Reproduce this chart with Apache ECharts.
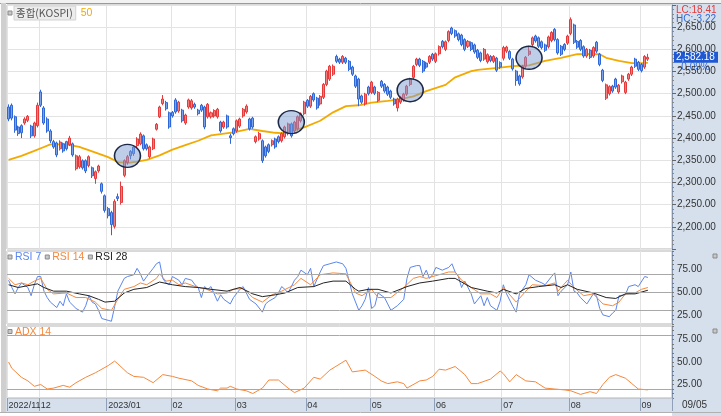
<!DOCTYPE html>
<html>
<head>
<meta charset="utf-8">
<script src="https://cdn.jsdelivr.net/npm/echarts@6/dist/echarts.min.js"></script>
<style>
  html, body { margin: 0; padding: 0; background: #fff; }
  #chart { width: 721px; height: 416px; }
</style>
</head>
<body>
<div id="chart"></div>
<script>
// months on the date axis and how many trading days each one holds
const monthLabels = ['2022/11', '12', '2023/01', '02', '03', '04', '05', '06', '07', '08', '09'];
const monthBars = [10, 21, 20, 20, 22, 20, 20, 21, 21, 22, 3];
const emptySlots = 7;
const lastDate = '09/05';

// KOSPI daily candles: [open, close, low, high]
const kospi = [
  [2470,2443,2438,2476],[2474,2445,2440,2478],[2448,2418,2412,2451],[2425,2410,2405,2428],[2428,2412,2400,2431],
  [2434,2443,2430,2447],[2440,2449,2436,2452],[2427,2405,2400,2430],[2405,2434,2401,2437],[2428,2474,2424,2480],
  [2504,2474,2470,2509],[2468,2434,2430,2472],[2443,2416,2412,2447],[2416,2394,2389,2420],[2392,2380,2376,2396],
  [2389,2362,2357,2392],[2376,2391,2372,2395],[2387,2371,2367,2390],[2392,2376,2372,2394],[2385,2400,2382,2405],
  [2387,2362,2358,2390],[2331,2360,2327,2363],[2335,2358,2331,2362],[2349,2333,2329,2352],[2349,2326,2321,2352],
  [2338,2358,2334,2361],[2333,2315,2310,2336],[2309,2324,2297,2327],[2326,2337,2322,2340],[2297,2280,2275,2300],
  [2270,2237,2232,2273],
  [2241,2225,2219,2245],[2232,2205,2181,2236],[2201,2257,2196,2262],[2268,2264,2258,2275],[2255,2291,2250,2302],
  [2316,2349,2312,2352],[2345,2358,2340,2362],[2370,2360,2352,2373],[2380,2365,2360,2384],[2383,2398,2378,2402],
  [2387,2409,2384,2413],[2405,2376,2372,2408],[2385,2376,2372,2388],[2358,2380,2354,2383],[2376,2398,2373,2401],
  [2420,2431,2417,2434],[2448,2470,2445,2473],[2478,2488,2474,2497],[2480,2466,2462,2484],[2457,2425,2421,2460],
  [2458,2450,2446,2461],[2486,2459,2455,2490],[2461,2481,2457,2484],[2463,2439,2435,2466],[2434,2452,2430,2455],
  [2470,2486,2466,2489],[2468,2484,2464,2488],[2476,2470,2466,2480],[2463,2455,2451,2466],[2474,2463,2459,2477],
  [2470,2425,2420,2473],[2448,2476,2444,2479],[2448,2457,2444,2460],[2450,2462,2446,2465],[2448,2465,2444,2468],
  [2436,2416,2412,2439],[2425,2436,2421,2439],[2450,2425,2421,2453],[2405,2401,2387,2410],[2421,2410,2406,2424],
  [2416,2439,2412,2442],[2427,2443,2423,2446],[2450,2465,2446,2468],[2459,2472,2455,2476],[2443,2421,2417,2446],
  [2445,2425,2421,2448],[2392,2403,2388,2406],[2398,2410,2394,2414],[2394,2349,2344,2397],[2380,2360,2356,2383],
  [2385,2370,2366,2388],[2385,2394,2381,2397],[2398,2380,2376,2401],[2403,2392,2388,2406],[2394,2410,2390,2413],
  [2403,2425,2399,2428],[2410,2432,2406,2435],[2432,2405,2401,2435],[2416,2436,2412,2439],[2421,2448,2417,2451],
  [2439,2455,2435,2458],[2455,2481,2451,2484],
  [2485,2472,2468,2488],[2472,2494,2468,2497],[2500,2486,2482,2503],[2490,2468,2464,2493],[2477,2494,2473,2497],
  [2492,2521,2488,2524],[2521,2551,2517,2554],[2533,2562,2529,2565],[2544,2562,2540,2566],[2584,2573,2569,2588],
  [2578,2571,2567,2581],[2571,2584,2567,2587],[2580,2571,2567,2583],[2573,2555,2551,2576],[2560,2544,2540,2563],
  [2540,2517,2513,2543],[2533,2488,2472,2536],[2495,2481,2477,2498],[2477,2499,2473,2502],[2515,2500,2496,2518],
  [2503,2526,2499,2529],[2515,2501,2497,2518],[2485,2503,2481,2506],[2528,2517,2513,2531],[2521,2506,2502,2524],
  [2515,2499,2495,2518],[2506,2492,2488,2509],[2488,2477,2473,2491],[2468,2488,2460,2491],[2481,2492,2477,2495],
  [2486,2499,2482,2502],[2499,2517,2495,2520],[2521,2533,2517,2536],[2537,2562,2533,2565],[2566,2578,2562,2581],
  [2578,2564,2560,2581],[2573,2551,2547,2576],[2569,2560,2556,2572],[2571,2584,2567,2587],[2589,2578,2574,2592],
  [2573,2590,2569,2593],[2590,2606,2586,2609],[2618,2606,2602,2621],[2600,2617,2596,2620],[2620,2640,2616,2643],
  [2648,2636,2632,2651],[2642,2630,2626,2645],[2635,2622,2618,2638],[2632,2611,2607,2635],[2622,2600,2596,2625],
  [2607,2618,2603,2621],[2615,2600,2596,2618],[2610,2594,2590,2613],[2598,2582,2578,2601],[2592,2575,2571,2595],
  [2578,2600,2574,2603],[2572,2588,2568,2591],[2584,2575,2571,2587],[2573,2584,2569,2587],[2580,2553,2549,2583],
  [2570,2560,2556,2573],
  [2580,2604,2575,2608],[2596,2605,2592,2608],[2595,2580,2576,2598],[2578,2556,2552,2581],[2551,2530,2518,2554],
  [2540,2522,2518,2543],[2538,2562,2534,2565],[2562,2582,2558,2585],[2589,2596,2585,2608],[2611,2626,2607,2629],
  [2630,2619,2615,2633],[2626,2607,2603,2629],[2617,2604,2600,2620],[2610,2598,2594,2613],[2606,2628,2602,2631],
  [2620,2638,2616,2641],[2645,2622,2618,2648],[2622,2592,2588,2625],[2607,2589,2585,2610],[2611,2600,2596,2614],
  [2614,2630,2610,2633],
  [2636,2667,2632,2672],[2655,2616,2612,2658],[2618,2605,2601,2621],[2620,2600,2596,2623],[2606,2585,2581,2609],
  [2585,2600,2581,2603],[2598,2582,2578,2601],[2585,2604,2581,2607],[2616,2596,2592,2619],[2589,2566,2562,2592],
  [2553,2530,2526,2556],[2490,2520,2486,2523],[2500,2516,2496,2519],[2517,2506,2502,2520],[2533,2515,2511,2536],
  [2504,2519,2500,2522],[2527,2540,2523,2543],[2503,2526,2499,2529],[2533,2544,2529,2547],[2544,2560,2540,2563],
  [2578,2562,2558,2581],[2571,2555,2551,2574],
  [2566,2552,2548,2569],[2560,2584,2556,2587],[2578,2582.18,2574,2590]
];

// 50-day moving average, read at its bends: [bar, value]
const ma50 = [
  [0,2351],[4,2360],[8,2371],[11,2380],[13,2386],[18,2386],[22,2380],[26,2370],[31,2357],[34,2346],
  [37,2344],[40,2347],[43,2351],[47,2361],[51,2374],[55,2384],[59,2394],[63,2406],[70,2413],[75,2421],
  [79,2416],[83,2412],[85,2411],[88,2415],[92,2424],[97,2439],[101,2458],[105,2472],[109,2474],[113,2480],
  [118,2484],[122,2488],[126,2494],[130,2506],[136,2520],[139,2537],[144,2551],[146,2554],[153,2559],[157,2562],
  [162,2564],[167,2574],[172,2581],[177,2589],[181,2590],[184,2589],[186,2581],[190,2574],[194,2569],[198,2569],
  [199,2570]
];

// golden-cross marks on the price pane: [bar, price]
const crossPoints = [[37, 2360], [88, 2436], [125, 2508], [162, 2581]];

const lastClose = 2582.18;
const lastChange = '-0.09%';
const lcText = 'LC:18.41';
const hcText = 'HC:-3.22';

// RSI lines: [bar, value]
const rsi7 = [
  [0,63],[1,55],[2,48],[3,55],[4,60],[6,55],[7,46],[8,58],[9,67],[10,67],[11,51],[12,44],[13,39],[15,33],
  [16,40],[17,35],[18,48],[19,39],[21,32],[23,28],[24,35],[25,46],[26,39],[27,37],[28,30],[29,21],[31,19],
  [32,18],[33,34],[34,51],[36,65],[37,67],[39,69],[40,76],[41,70],[42,62],[43,67],[45,76],[46,81],[47,83],
  [48,65],[49,60],[50,58],[51,67],[53,63],[54,58],[55,65],[57,63],[58,58],[59,55],[60,44],[61,56],[62,53],
  [63,56],[65,40],[66,47],[67,42],[69,37],[70,44],[72,53],[73,56],[74,49],[75,42],[77,37],[79,28],[80,37],
  [81,40],[83,44],[84,49],[85,56],[86,53],[87,49],[89,63],[90,67],[91,74],[93,69],[94,76],[95,56],[97,72],
  [98,79],[100,81],[102,83],[104,81],[105,76],[107,48],[109,30],[110,35],[111,42],[112,55],[113,32],[114,35],
  [115,49],[117,44],[118,37],[119,30],[121,35],[123,42],[124,65],[125,77],[127,79],[128,79],[129,67],[130,74],
  [131,65],[132,69],[133,77],[135,74],[137,77],[138,81],[139,72],[140,67],[141,55],[142,62],[144,48],[145,37],
  [147,46],[148,35],[149,44],[150,35],[152,30],[153,40],[154,58],[155,48],[157,34],[158,28],[159,48],[161,58],
  [162,69],[164,63],[166,60],[167,58],[169,67],[170,71],[171,46],[172,51],[174,58],[175,72],[176,51],[177,49],
  [178,44],[180,37],[182,48],[183,46],[184,32],[185,25],[187,23],[188,27],[189,30],[190,46],[192,47],[193,56],
  [195,58],[196,56],[198,67],[199,66]
];
const rsi14 = [
  [0,65],[2,58],[4,60],[6,58],[8,62],[10,65],[12,53],[14,48],[18,49],[21,44],[24,44],[27,39],[29,32],[32,30],
  [34,42],[36,53],[39,56],[41,60],[43,58],[46,65],[47,70],[49,62],[51,63],[53,58],[55,60],[59,55],[61,54],
  [65,48],[68,49],[70,53],[73,54],[76,44],[79,39],[82,47],[85,51],[89,58],[91,65],[94,58],[97,69],[101,71],
  [105,70],[108,49],[110,46],[113,53],[115,44],[119,44],[123,55],[126,65],[128,67],[130,65],[133,68],[137,72],
  [139,72],[141,63],[144,55],[147,48],[150,48],[152,44],[154,55],[158,39],[161,51],[163,58],[167,57],[170,60],
  [171,51],[174,63],[176,55],[179,46],[182,48],[185,37],[188,35],[190,39],[192,48],[195,49],[197,53],[199,55]
];
const rsi28 = [
  [0,58],[3,55],[6,57],[9,59],[11,55],[14,51],[18,51],[22,48],[25,46],[28,42],[30,39],[33,40],[36,49],[39,53],
  [43,55],[47,61],[51,58],[55,56],[59,55],[63,53],[68,51],[72,55],[76,48],[79,45],[83,47],[86,49],[90,55],
  [95,56],[98,60],[101,62],[105,62],[108,53],[109,51],[112,53],[115,53],[119,49],[124,56],[128,60],[132,62],
  [137,65],[139,65],[140,63],[144,55],[149,51],[152,49],[154,53],[158,48],[161,54],[165,56],[170,58],[172,55],
  [174,58],[177,53],[182,49],[186,44],[189,43],[192,48],[195,48],[199,52]
];
const rsiLevels = [30, 50, 70];

// ADX 14: [bar, value]
const adx14 = [
  [0,50],[1,43],[4,33],[6,29],[8,23],[10,25],[12,20],[14,21],[17,24],[19,22],[21,27],[24,33],[27,38],[28,40],
  [31,46],[33,51],[34,48],[37,38],[39,34],[42,33],[45,27],[48,36],[51,34],[53,32],[57,29],[59,24],[62,20],
  [65,18],[66,21],[68,21],[69,23],[71,20],[74,18],[76,15],[79,21],[81,30],[84,30],[87,21],[89,16],[92,21],
  [95,33],[97,31],[100,41],[105,52],[107,39],[109,40],[111,41],[114,34],[116,29],[118,26],[121,28],[123,26],
  [124,21],[128,29],[130,30],[132,34],[134,42],[136,41],[139,45],[142,36],[144,26],[146,26],[150,31],[153,40],
  [154,37],[156,28],[158,36],[161,29],[164,28],[167,21],[170,20],[173,19],[175,18],[178,14],[181,17],[183,15],
  [185,25],[187,33],[189,36],[192,32],[194,26],[196,20],[199,19]
];
const adxLevels = [20, 80];

// ---- build the category axis from the month table
const cats = [];
const monthStarts = [];
const labelAt = {};
let n = 0;
monthBars.forEach((cnt, m) => {
  monthStarts.push(n);
  labelAt[n] = monthLabels[m];
  for (let k = 0; k < cnt; k++) cats.push(String(n++));
});
for (let k = 0; k < emptySlots; k++) cats.push(String(n++));
const isMonthStart = (i) => monthStarts.indexOf(i) >= 0;

const FONT = "'Liberation Sans', 'Noto Sans CJK KR', sans-serif";
const KFONT = "'Noto Sans CJK KR', 'Liberation Sans', sans-serif";
const STRIP = '#d6e0ed';
const GRIDC = '#e3e3e3';
const REFC = '#a8a8a8';
const ORANGE = '#f5883c';

const measure = (function () {
  const ctx = document.createElement('canvas').getContext('2d');
  return function (text, size, family) {
    ctx.font = size + 'px ' + family;
    return ctx.measureText(text).width;
  };
})();

const grids = [
  { left: 7, right: 49, top: 5, height: 244 },
  { left: 7, right: 49, top: 251, height: 73 },
  { left: 7, right: 49, top: 326, height: 72 }
].map(g => Object.assign(g, { show: true, backgroundColor: '#fff', borderColor: '#b4b4b4', borderWidth: 1 }));

function xAxisFor(idx, withLabels) {
  return {
    type: 'category', gridIndex: idx, data: cats, boundaryGap: true,
    axisLine: { show: false },
    axisTick: withLabels
      ? { show: true, interval: isMonthStart, length: 13, lineStyle: { color: '#8fa0b8' } }
      : { show: false },
    axisLabel: withLabels
      ? { show: true, interval: isMonthStart, hideOverlap: false, showMinLabel: true,
          formatter: (v) => labelAt[+v] || '', align: 'left',
          margin: 3, color: '#333', fontSize: 9, fontFamily: FONT }
      : { show: false },
    splitLine: { show: true, interval: isMonthStart, lineStyle: { color: GRIDC, width: 1 } }
  };
}

function smallAxis(idx, min, max, marks) {
  return {
    type: 'value', gridIndex: idx, position: 'right', min: min, max: max, interval: 5,
    axisLine: { show: true, lineStyle: { color: '#8393ab' } },
    axisTick: { show: true, length: 2, lineStyle: { color: '#777' } },
    axisLabel: {
      formatter: (v) => marks.indexOf(v) >= 0 ? v.toFixed(2) : '',
      color: '#333', fontSize: 10, fontFamily: FONT, margin: 5
    },
    splitLine: { show: false }
  };
}

function levelLines(values, color) {
  return {
    silent: true, symbol: 'none', animation: false, label: { show: false },
    lineStyle: { color: color, type: 'solid', width: 1 },
    data: values.map(v => ({ yAxis: v }))
  };
}

const option = {
  animation: false,
  backgroundColor: '#fff',
  grid: grids,
  xAxis: [xAxisFor(0, false), xAxisFor(1, false), xAxisFor(2, true)],
  yAxis: [
    {
      type: 'value', gridIndex: 0, position: 'right', min: 2150, max: 2700, interval: 50,
      axisLine: { show: true, lineStyle: { color: '#8393ab' } },
      axisTick: { show: true, length: 4, lineStyle: { color: '#666' } },
      minorTick: { show: true, splitNumber: 5, length: 2, lineStyle: { color: '#888' } },
      axisLabel: {
        formatter: (v) => v.toLocaleString('en-US', { minimumFractionDigits: 2, maximumFractionDigits: 2 }),
        color: '#333', fontSize: 10, fontFamily: FONT, margin: 5,
        showMinLabel: false, showMaxLabel: false
      },
      splitLine: { show: true, lineStyle: { color: GRIDC, width: 1 } }
    },
    smallAxis(1, 15, 95, [25, 50, 75]),
    smallAxis(2, 10, 90, [25, 50, 75])
  ],
  series: [
    {
      name: '종합(KOSPI)', type: 'candlestick', xAxisIndex: 0, yAxisIndex: 0,
      data: kospi, barWidth: '78%',
      itemStyle: {
        color: '#f38080', color0: '#7aa3ec',
        borderColor: '#e5393a', borderColor0: '#2f68d6', borderWidth: 1
      },
      markPoint: {
        silent: true, animation: false, symbol: 'circle', symbolSize: [26, 23],
        label: { show: false },
        itemStyle: { color: 'rgba(125,155,210,0.5)', borderColor: '#1c2846', borderWidth: 1.5 },
        data: crossPoints.map(p => ({ coord: p }))
      }
    },
    {
      name: 'MA50', type: 'line', xAxisIndex: 0, yAxisIndex: 0, data: ma50,
      showSymbol: false, symbol: 'none', lineStyle: { color: '#f2aa00', width: 1.8 }, z: 1
    },
    {
      name: 'RSI 7', type: 'line', xAxisIndex: 1, yAxisIndex: 1, data: rsi7,
      symbol: 'none', lineStyle: { color: '#5a86ee', width: 1 }
    },
    {
      name: 'RSI 14', type: 'line', xAxisIndex: 1, yAxisIndex: 1, data: rsi14,
      symbol: 'none', lineStyle: { color: ORANGE, width: 1 }
    },
    {
      name: 'RSI 28', type: 'line', xAxisIndex: 1, yAxisIndex: 1, data: rsi28,
      symbol: 'none', lineStyle: { color: '#222', width: 1 },
      markLine: levelLines(rsiLevels, REFC)
    },
    {
      name: 'ADX 14', type: 'line', xAxisIndex: 2, yAxisIndex: 2, data: adx14,
      symbol: 'none', lineStyle: { color: ORANGE, width: 1 },
      markLine: levelLines(adxLevels, REFC)
    }
  ]
};

const chart = echarts.init(document.getElementById('chart'), null, { renderer: 'canvas' });
chart.setOption(option);

// price tag on the right axis at the last close
const py = chart.convertToPixel({ xAxisIndex: 0, yAxisIndex: 0 }, [kospi.length - 1, lastClose])[1];

function label(text, x, y, color, size, family) {
  return {
    type: 'text', x: x, y: y,
    style: { text: text, fill: color, fontSize: size || 11, fontFamily: family || FONT, verticalAlign: 'middle' }
  };
}
function icon(x, y) {
  return { type: 'rect', shape: { x: x, y: y, width: 4, height: 4 }, style: { fill: '#c8c8c8', stroke: '#8a8a8a', lineWidth: 1 } };
}
// a pane legend: small square then coloured name, laid out one after another
function legendRow(items, x0, y) {
  const out = [];
  let x = x0;
  items.forEach(it => {
    out.push(icon(x, y - 2.5));
    x += 7;
    out.push(label(it.text, x, y, it.color, 10.5));
    x += measure(it.text, 10.5, FONT) + 4;
  });
  return out;
}

const kospiW = measure('종합(KOSPI)', 10.5, KFONT);

chart.setOption({
  graphic: [
    { type: 'rect', z: -100, shape: { x: 672, y: 4, width: 49, height: 412 }, style: { fill: STRIP } },
    { type: 'rect', z: -100, shape: { x: 6, y: 398, width: 666, height: 14 }, style: { fill: STRIP } },
    { type: 'rect', z: -90, shape: { x: 0, y: 0, width: 721, height: 3 }, style: { fill: '#f2f2f2' } },
    { type: 'line', z: -90, shape: { x1: 0, y1: 3.5, x2: 721, y2: 3.5 }, style: { stroke: '#9a9a9a', lineWidth: 1 } },
    { type: 'rect', z: -90, shape: { x: 1, y: 3, width: 5, height: 410 }, style: { fill: '#cfcfcf' } },
    { type: 'line', z: -90, shape: { x1: 0, y1: 412.5, x2: 721, y2: 412.5 }, style: { stroke: '#b0b0b0', lineWidth: 1 } },

    // main pane legend
    icon(8, 11),
    { type: 'rect', shape: { x: 14, y: 6, width: kospiW + 5, height: 14 }, style: { fill: '#ececec', stroke: '#d2d2d2', lineWidth: 1 } },
    label('종합(KOSPI)', 16, 13.5, '#555', 10.5, KFONT),
    label('50', kospiW + 24, 13, '#f2aa00', 10.5),

    // RSI and ADX legends
    ...legendRow([
      { text: 'RSI 7', color: '#5a86ee' },
      { text: 'RSI 14', color: ORANGE },
      { text: 'RSI 28', color: '#222' }
    ], 8, 257.5),
    ...legendRow([{ text: 'ADX 14', color: ORANGE }], 8, 332),

    // pane buttons on the right strip
    icon(713, 254), icon(713, 329),

    // LC / HC readout
    { type: 'rect', shape: { x: 673, y: 6, width: 48, height: 17 }, style: { fill: STRIP } },
    label(lcText, 676, 10.5, '#e23a3a', 10),
    label(hcText, 676, 19.5, '#2f68d6', 10),

    // last price tag
    { type: 'rect', shape: { x: 674, y: py - 5.5, width: 44, height: 11 }, style: { fill: '#1f58d2' } },
    label(lastClose.toLocaleString('en-US', { minimumFractionDigits: 2 }), 676, py, '#fff', 10),
    label(lastChange, 678, py + 10, '#2f68d6', 10),

    // current date at the end of the date axis
    label(lastDate, 682, 405.5, '#333', 10)
  ]
});
</script>
</body>
</html>
